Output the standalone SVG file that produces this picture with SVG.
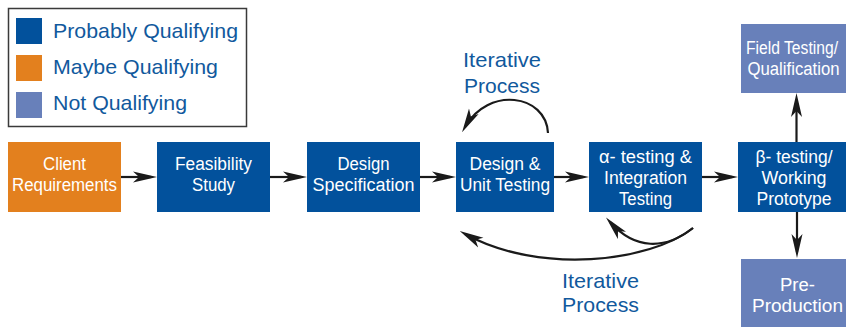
<svg xmlns="http://www.w3.org/2000/svg" width="846" height="327" viewBox="0 0 846 327">
  <style>
    .dark { fill: #02519C; }
    .orange { fill: #E3801E; }
    .light { fill: #6880BA; }
    .node-text { font-family: "Liberation Sans Narrow", "Liberation Sans", Arial, sans-serif; font-size: 18px; fill: #FFFFFF; text-anchor: middle; }
    .label { font-family: "Liberation Sans Narrow", "Liberation Sans", Arial, sans-serif; font-size: 21px; fill: #11599D; }
    .conn { fill: none; stroke: #1A1A1A; stroke-width: 2.2; }
  </style>
  <defs>
    <marker id="arrow" viewBox="0 0 24 12" refX="18" refY="6" markerWidth="24" markerHeight="12" markerUnits="userSpaceOnUse" orient="auto">
      <path d="M0,0.5 L24,6 L0,11.5 L6,6 Z" fill="#1A1A1A"/>
    </marker>
  </defs>

  <rect width="846" height="327" fill="#FFFFFF"/>

  <!-- legend -->
  <g id="legend">
    <rect x="8.5" y="8.5" width="238" height="118" fill="#FFFFFF" stroke="#3A3A3A" stroke-width="1.5"/>
    <rect class="dark" x="16" y="18" width="26" height="26"/>
    <rect class="orange" x="16" y="55" width="26" height="26"/>
    <rect class="light" x="16" y="92" width="26" height="26"/>
    <text class="label" x="53" y="38" textLength="185" lengthAdjust="spacingAndGlyphs">Probably Qualifying</text>
    <text class="label" x="53" y="74" textLength="165" lengthAdjust="spacingAndGlyphs">Maybe Qualifying</text>
    <text class="label" x="53" y="110" textLength="134" lengthAdjust="spacingAndGlyphs">Not Qualifying</text>
  </g>

  <!-- process nodes -->
  <g id="client-requirements">
    <rect class="orange" x="8" y="142" width="113" height="70"/>
    <text class="node-text" x="64.5" y="170" textLength="43" lengthAdjust="spacingAndGlyphs">Client</text>
    <text class="node-text" x="64.5" y="191" textLength="105" lengthAdjust="spacingAndGlyphs">Requirements</text>
  </g>
  <g id="feasibility-study">
    <rect class="dark" x="157" y="142" width="113" height="70"/>
    <text class="node-text" x="213.5" y="170" textLength="77" lengthAdjust="spacingAndGlyphs">Feasibility</text>
    <text class="node-text" x="213.5" y="191" textLength="43" lengthAdjust="spacingAndGlyphs">Study</text>
  </g>
  <g id="design-specification">
    <rect class="dark" x="307" y="142" width="113" height="70"/>
    <text class="node-text" x="363.5" y="170" textLength="52" lengthAdjust="spacingAndGlyphs">Design</text>
    <text class="node-text" x="363.5" y="191" textLength="102" lengthAdjust="spacingAndGlyphs">Specification</text>
  </g>
  <g id="design-unit-testing">
    <rect class="dark" x="456" y="142" width="98" height="70"/>
    <text class="node-text" x="505" y="170" textLength="71" lengthAdjust="spacingAndGlyphs">Design &amp;</text>
    <text class="node-text" x="505" y="191" textLength="90" lengthAdjust="spacingAndGlyphs">Unit Testing</text>
  </g>
  <g id="alpha-testing">
    <rect class="dark" x="589" y="142" width="113" height="70"/>
    <text class="node-text" x="645.5" y="163" textLength="93" lengthAdjust="spacingAndGlyphs">α- testing &amp;</text>
    <text class="node-text" x="645.5" y="184" textLength="83" lengthAdjust="spacingAndGlyphs">Integration</text>
    <text class="node-text" x="645.5" y="205" textLength="53" lengthAdjust="spacingAndGlyphs">Testing</text>
  </g>
  <g id="beta-testing">
    <rect class="dark" x="738" y="142" width="108" height="70"/>
    <text class="node-text" x="794" y="163" textLength="77" lengthAdjust="spacingAndGlyphs">β- testing/</text>
    <text class="node-text" x="794" y="184" textLength="65" lengthAdjust="spacingAndGlyphs">Working</text>
    <text class="node-text" x="794" y="205" textLength="75" lengthAdjust="spacingAndGlyphs">Prototype</text>
  </g>
  <g id="field-testing">
    <rect class="light" x="741" y="24" width="105" height="69"/>
    <text class="node-text" x="792" y="54" font-size="16" textLength="92" lengthAdjust="spacingAndGlyphs">Field Testing/</text>
    <text class="node-text" x="793.5" y="75" textLength="92" lengthAdjust="spacingAndGlyphs">Qualification</text>
  </g>
  <g id="pre-production">
    <rect class="light" x="741" y="259" width="105" height="68"/>
    <text class="node-text" x="797.5" y="291" textLength="35" lengthAdjust="spacingAndGlyphs">Pre-</text>
    <text class="node-text" x="797.5" y="312" textLength="91" lengthAdjust="spacingAndGlyphs">Production</text>
  </g>

  <!-- loop labels -->
  <g id="iterative-top">
    <text class="label" x="502" y="67" text-anchor="middle" textLength="78" lengthAdjust="spacingAndGlyphs">Iterative</text>
    <text class="label" x="502" y="93" text-anchor="middle" textLength="76" lengthAdjust="spacingAndGlyphs">Process</text>
  </g>
  <g id="iterative-bottom">
    <text class="label" x="600.5" y="288" text-anchor="middle" textLength="77" lengthAdjust="spacingAndGlyphs">Iterative</text>
    <text class="label" x="600.5" y="312" text-anchor="middle" textLength="77" lengthAdjust="spacingAndGlyphs">Process</text>
  </g>

  <!-- connectors -->
  <g id="connectors" class="conn" marker-end="url(#arrow)">
    <path d="M121,177 L151,177"/>
    <path d="M270,177 L301,177"/>
    <path d="M420,177 L450,177"/>
    <path d="M554,177 L583,177"/>
    <path d="M702,177 L732,177"/>
    <path d="M796.5,142 L796.5,99"/>
    <path d="M797,212 L797,252"/>
    <path d="M548,133 C546,94 488,86 465,127"/>
    <path d="M693,228 C650,262 540,275 465,234"/>
    <path d="M693,228 C665,250 635,250 610,222"/>
  </g>
</svg>
